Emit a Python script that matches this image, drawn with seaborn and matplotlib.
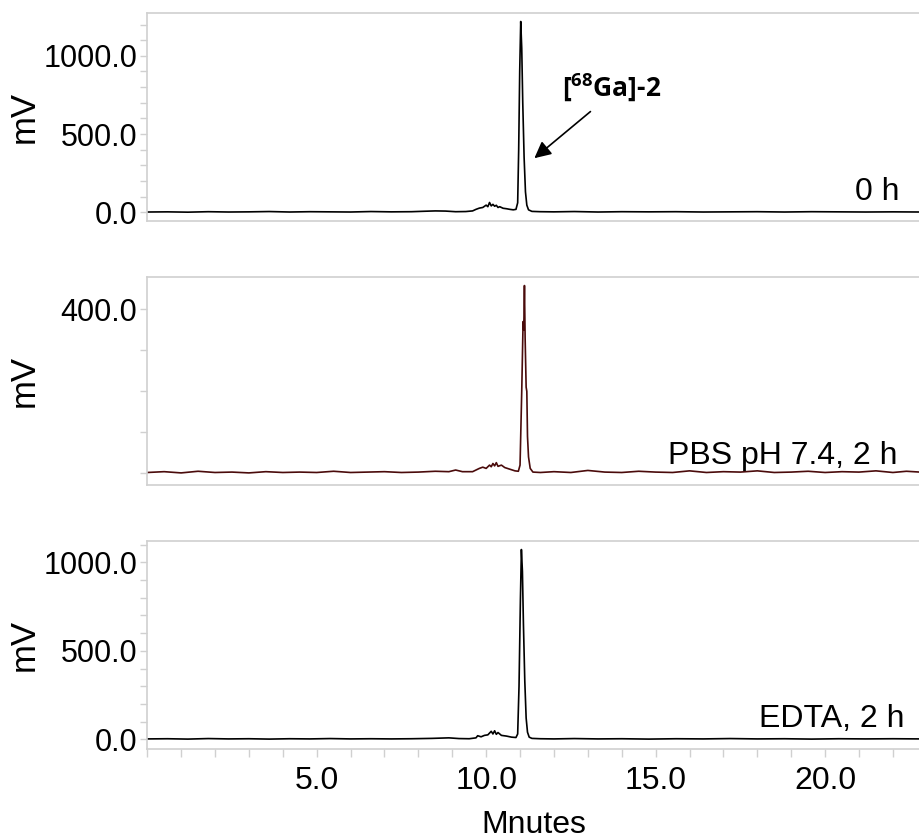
#!/usr/bin/env python3

# Import libraries
import pandas as pd
import numpy as np
import matplotlib.pyplot as plt
from matplotlib.ticker import MultipleLocator, FixedLocator
import seaborn as sns

# Chromatogram traces (minutes, mV)
time_0h = [0.0, 0.6, 1.2, 1.8, 2.4, 3.0, 3.6, 4.2, 4.8, 5.4, 6.0, 6.6, 7.2, 7.8,
           8.2, 8.5, 8.8, 9.1, 9.4, 9.6, 9.7, 9.8, 9.9, 10.0, 10.05, 10.1, 10.15,
           10.2, 10.25, 10.3, 10.35, 10.4, 10.5, 10.6, 10.7, 10.8, 10.88, 10.93,
           10.96, 10.99, 11.02, 11.05, 11.08, 11.12, 11.16, 11.2, 11.25, 11.35,
           11.6, 12.0, 12.6, 13.3, 14.0, 14.8, 15.6, 16.4, 17.2, 18.0, 18.8,
           19.6, 20.4, 21.2, 22.0, 22.8]
mv_0h = [1, 2, 0, 3, 1, 2, 4, 1, 3, 2, 1, 4, 2, 3,
         6, 8, 7, 3, 4, 8, 18, 26, 30, 45, 35, 62, 40,
         50, 38, 44, 30, 35, 25, 22, 18, 15, 18, 60,
         400, 900, 1220, 1050, 700, 350, 130, 45, 15, 5,
         3, 2, 4, 1, 3, 2, 3, 1, 2, 3, 1,
         3, 2, 1, 2, 1]

time_pbs = [0.0, 0.5, 1.0, 1.5, 2.0, 2.5, 3.0, 3.5, 4.0, 4.5, 5.0, 5.5, 6.0, 6.5,
            7.0, 7.5, 8.0, 8.5, 8.9, 9.1, 9.3, 9.6, 9.8, 9.9, 10.0, 10.1, 10.15,
            10.2, 10.25, 10.3, 10.35, 10.45, 10.55, 10.7, 10.85, 10.95, 11.0,
            11.05, 11.09, 11.11, 11.13, 11.15, 11.18, 11.2, 11.22, 11.25, 11.3,
            11.38, 11.6, 12.0, 12.5, 13.0, 13.5, 14.0, 14.5, 15.0, 15.5, 16.0,
            16.5, 17.0, 17.5, 18.0, 18.5, 19.0, 19.5, 20.0, 20.5, 21.0, 21.5,
            22.0, 22.4, 22.8]
mv_pbs = [2, 4, 1, 5, 2, 3, 1, 4, 2, 3, 2, 5, 2, 3,
          4, 2, 3, 5, 4, 8, 4, 4, 12, 15, 12, 20, 16,
          24, 18, 26, 17, 20, 14, 10, 6, 5, 20,
          200, 370, 350, 458, 330, 210, 200, 90, 40, 12,
          3, 2, 4, 2, 7, 3, 2, 5, 3, 2, 6,
          2, 4, 3, 6, 2, 3, 5, 2, 4, 3, 6,
          2, 5, 3]

time_edta = [0.0, 0.6, 1.2, 1.8, 2.4, 3.0, 3.6, 4.2, 4.8, 5.4, 6.0, 6.6, 7.2, 7.8,
             8.4, 8.9, 9.2, 9.5, 9.7, 9.75, 9.85, 9.95, 10.05, 10.15, 10.2,
             10.25, 10.3, 10.35, 10.45, 10.6, 10.75, 10.88, 10.93, 10.97, 11.01,
             11.04, 11.07, 11.1, 11.14, 11.18, 11.22, 11.27, 11.35, 11.6, 12.0,
             12.6, 13.3, 14.0, 14.8, 15.6, 16.4, 17.2, 18.0, 18.8, 19.6, 20.4,
             21.2, 22.0, 22.8]
mv_edta = [2, 3, 1, 4, 2, 3, 1, 3, 2, 4, 2, 3, 2, 3,
           5, 8, 4, 3, 8, 20, 14, 22, 25, 45, 30,
           48, 28, 38, 22, 18, 12, 10, 30, 300, 780,
           1073, 950, 650, 330, 120, 40, 12, 5, 3, 2,
           4, 2, 3, 1, 3, 2, 4, 2, 3, 1, 3,
           2, 3, 2]

runs = ["0 h", "PBS pH 7.4, 2 h", "EDTA, 2 h"]
times = [time_0h, time_pbs, time_edta]
values = [mv_0h, mv_pbs, mv_edta]
colors = ["black", "#4a0b0b", "black"]

# Axis settings per panel
y_limits = [(-58, 1277), (-29, 480), (-56, 1124)]
y_major = [[0, 500, 1000], [400], [0, 500, 1000]]
y_minor = [100, 100, 100]
label_pos = [(22.2, 77), (22.15, 22), (22.35, 68)]

# Visualisation
sns.set_style("white")
plt.rcParams["font.family"] = ["Liberation Sans", "DejaVu Sans"]
plt.rcParams["text.color"] = "black"
plt.rcParams["axes.labelcolor"] = "black"
plt.rcParams["xtick.labelcolor"] = "black"
plt.rcParams["ytick.labelcolor"] = "black"
plt.rcParams["mathtext.fontset"] = "custom"
plt.rcParams["mathtext.bf"] = "Open Sans:bold"
plt.rcParams["mathtext.rm"] = "Open Sans:bold"

fig = plt.figure(figsize=(9.2, 8.38), dpi=100)
bottoms = [0.736, 0.421, 0.106]
grey = "#d0d0d0"

axes = []
for i, run in enumerate(runs):
    ax = fig.add_axes([0.16, bottoms[i], 0.84, 0.249])
    df = pd.DataFrame({"Minutes": times[i], "mV": values[i]})
    sns.lineplot(data=df, x="Minutes", y="mV", ax=ax, color=colors[i],
                 linewidth=1.2, estimator=None, sort=False)
    ax.set_xlim(0, 22.8)
    ax.set_ylim(*y_limits[i])
    ax.yaxis.set_major_locator(FixedLocator(y_major[i]))
    ax.yaxis.set_minor_locator(MultipleLocator(y_minor[i]))
    ax.set_yticklabels(["%.1f" % v for v in y_major[i]])
    ax.tick_params(axis="y", which="both", left=True, length=5, width=1,
                   color=grey, labelsize=22, pad=2)
    for side in ["top", "left", "bottom"]:
        ax.spines[side].set_color(grey)
        ax.spines[side].set_linewidth(1.2)
    ax.spines["right"].set_visible(False)
    ax.set_ylabel("mV", fontsize=25)
    ax.yaxis.set_label_coords(-0.138, 0.5)
    ax.set_xlabel("")
    ax.text(label_pos[i][0], label_pos[i][1], run, ha="right", va="baseline",
            fontsize=23)
    if i < 2:
        ax.set_xticks([])
    axes.append(ax)

# Bottom panel x axis
ax = axes[-1]
ax.xaxis.set_major_locator(FixedLocator([5, 10, 15, 20]))
ax.xaxis.set_minor_locator(MultipleLocator(1))
ax.set_xticklabels(["5.0", "10.0", "15.0", "20.0"])
ax.tick_params(axis="x", which="both", bottom=True, length=6, width=1,
               color=grey, labelsize=23, pad=6)
ax.set_xlabel("Mnutes", fontsize=23, labelpad=10)

# Peak annotation on the top panel
axes[0].annotate("", xy=(11.36, 334), xytext=(13.14, 655),
                 arrowprops=dict(arrowstyle="-|>", color="black", lw=1.2,
                                 mutation_scale=25))
axes[0].text(12.25, 796, r"[$^{\mathbf{68}}$Ga]-2", fontsize=19,
             fontweight="bold", family="Open Sans", va="center", ha="left")

plt.savefig("out.png", dpi=100)
